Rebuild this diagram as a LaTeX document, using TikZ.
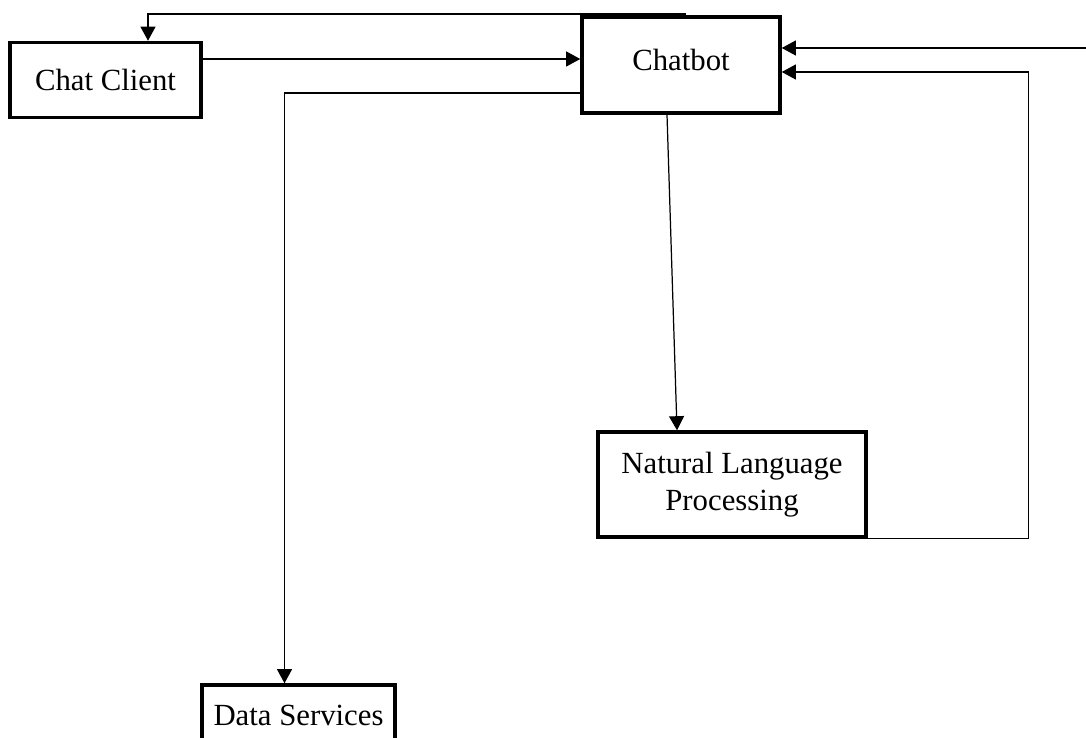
\documentclass[tikz,border=0pt]{standalone}
\usepackage{fontspec}
\setmainfont{Liberation Serif}
\usetikzlibrary{arrows.meta,positioning,calc}
\tikzset{
  box/.style ={draw,line width=0.07cm,inner sep=2pt,align=center,
               font=\fontsize{17.5}{21}\selectfont},
  ar/.style  ={-{Triangle[length=8pt,width=8.5pt]},line width=0.7pt},
}
\begin{document}
\begin{tikzpicture}
  \useasboundingbox (0,0) rectangle (21.72,-14.76);
  \node[box,minimum width=3.82cm,minimum height=1.5cm] (client) at (2.11,-1.6) {Chat Client};
  \node[box,minimum width=3.96cm,minimum height=1.92cm] (bot) at (13.62,-1.3) {\raisebox{0.2cm}{Chatbot}};
  \node[box,minimum width=5.36cm,minimum height=2.1cm] (nlp) at (14.64,-9.69) {Natural Language\\Processing};
  \node[box,minimum width=3.86cm,minimum height=1.2cm] (data) at (5.97,-14.3) {Data Services};
  \coordinate (top) at (13.72,-0.28);
  \coordinate (ext) at (21.72,-0.96);
  % replies back to the client
  \draw[ar] (top) -| ([xshift=0.85cm]client.north);
  \draw[ar] ([yshift=0.42cm]client.east) -- ([yshift=0.42cm]client.east -| bot.west);
  % chatbot to the services below
  \draw[ar] ([yshift=-0.56cm]bot.west) -| ([xshift=-0.28cm]data.north);
  \draw[ar] ([xshift=-0.28cm]bot.south) -- ([xshift=-1.1cm]nlp.north);
  % inputs coming into the chatbot
  \draw[ar] (nlp.south east) -- ++(3.22,0) |- ([yshift=-0.14cm]bot.east);
  \draw[ar] (ext) -- (ext -| bot.east);
\end{tikzpicture}
\end{document}
